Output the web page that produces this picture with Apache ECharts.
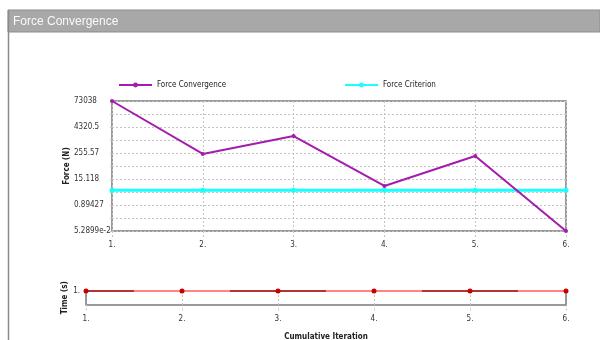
<!DOCTYPE html>
<html>
<head>
<meta charset="utf-8">
<title>Force Convergence</title>
<script src="https://cdn.jsdelivr.net/npm/echarts@6/dist/echarts.min.js"></script>
<style>
  html, body { margin: 0; padding: 0; background: #fff; }
  #chart { width: 600px; height: 340px; }
</style>
</head>
<body>
<div id="chart"></div>
<script>
const iterations = [1, 2, 3, 4, 5, 6];
const forceConvergence = [73038, 230, 1620, 7.1, 185, 0.052899];
const forceCriterion = [4.43, 4.43, 4.43, 4.43, 4.43, 4.43];
const timeValues = [1, 1, 1, 1, 1, 1];
const forceTicks = [0.052899, 0.89427, 15.118, 255.57, 4320.5, 73038];
const forceTickLabels = ['5.2899e-2', '0.89427', '15.118', '255.57', '4320.5', '73038'];
const timeStepSpans = [[1, 1.5], [2.5, 3.5], [4.5, 5.5]];

const FONT = "'Liberation Sans Narrow', 'DejaVu Sans Condensed', sans-serif";
const GRID_LINE = { color: '#c4c4c4', width: 1, type: [2, 2] };
const FRAME = '#7a7a7a';
const LABEL = { color: '#333', fontSize: 8, fontFamily: FONT };
const AXIS_NAME = { color: '#222', fontSize: 8, fontWeight: 'bold', fontFamily: FONT };

// dotted lines at every label and half way (geometric mean) between labels
const forceGridValues = [];
forceTicks.forEach((v, i) => {
  forceGridValues.push(v);
  if (i < forceTicks.length - 1) forceGridValues.push(Math.sqrt(v * forceTicks[i + 1]));
});

function forceLabel(v) {
  const i = forceTicks.findIndex(t => Math.abs(Math.log10(t) - Math.log10(v)) < 1e-4);
  return i < 0 ? '' : forceTickLabels[i];
}

const pairs = ys => iterations.map((x, i) => [x, ys[i]]);

// dark pieces on the time line, broken with nulls
const stepLine = [];
timeStepSpans.forEach(([a, b]) => { stepLine.push([a, timeValues[0]], [b, timeValues[0]], [b, null]); });

const chart = echarts.init(document.getElementById('chart'));
chart.setOption({
  animation: false,
  title: {
    text: 'Force Convergence', left: 10, top: 14, padding: [2, 3],
    textStyle: { color: '#fafafa', fontSize: 12, fontWeight: 'normal', fontFamily: "'Liberation Sans', sans-serif" }
  },
  graphic: [
    { type: 'rect', z: 0, shape: { x: 8, y: 10, width: 592, height: 22 }, style: { fill: '#a8a8a8', stroke: '#8c8c8c', lineWidth: 1 } },
    { type: 'line', z: 0, shape: { x1: 8.5, y1: 10, x2: 8.5, y2: 340 }, style: { stroke: '#8a8a8a', lineWidth: 1.5 } }
  ],
  legend: [
    { data: ['Force Convergence'], left: 113, top: 76, itemWidth: 33, itemHeight: 6, textStyle: { ...LABEL, color: '#222' } },
    { data: ['Force Criterion'], left: 339, top: 76, itemWidth: 33, itemHeight: 6, textStyle: { ...LABEL, color: '#222' } }
  ],
  grid: [
    { left: 112, right: 34, top: 101, height: 130, show: true, borderColor: FRAME, borderWidth: 1.5, outerBoundsMode: 'none' },
    { left: 86, right: 34, top: 291, height: 13.5, outerBoundsMode: 'none' }
  ],
  xAxis: [
    {
      gridIndex: 0, type: 'value', min: 1, max: 6, interval: 1,
      axisLine: { show: false },
      axisTick: { length: 6, lineStyle: GRID_LINE },
      splitLine: { lineStyle: GRID_LINE },
      axisLabel: { ...LABEL, margin: 10, formatter: v => v + '.' }
    },
    {
      gridIndex: 1, type: 'value', min: 1, max: 6, interval: 1,
      name: 'Cumulative Iteration', nameLocation: 'middle', nameGap: 28, nameMoveOverlap: false, nameTextStyle: AXIS_NAME,
      axisLine: { lineStyle: { color: FRAME, width: 1.5 } },
      axisTick: { length: 8, lineStyle: GRID_LINE },
      splitLine: { show: true, lineStyle: GRID_LINE },
      axisLabel: { ...LABEL, margin: 10, formatter: v => v + '.' }
    }
  ],
  yAxis: [
    {
      gridIndex: 0, type: 'log', logBase: 10, min: forceTicks[0], max: forceTicks[forceTicks.length - 1],
      name: 'Force (N)', nameLocation: 'middle', nameGap: 41, nameMoveOverlap: false, nameTextStyle: AXIS_NAME,
      axisLine: { show: false },
      axisTick: { customValues: forceGridValues, length: 4, lineStyle: GRID_LINE },
      splitLine: { show: true, lineStyle: GRID_LINE },
      axisLabel: { ...LABEL, customValues: forceTicks, formatter: forceLabel, align: 'left', margin: 38 }
    },
    {
      gridIndex: 1, type: 'value', min: 0, max: 1, interval: 1,
      name: 'Time (s)', nameLocation: 'middle', nameGap: 17, nameMoveOverlap: false, nameTextStyle: AXIS_NAME,
      axisLine: { lineStyle: { color: FRAME, width: 1.5 } },
      axisTick: { show: false },
      splitLine: { show: false },
      axisLabel: { ...LABEL, margin: 6, showMinLabel: false, formatter: v => v + '.' }
    },
    {
      gridIndex: 1, type: 'value', position: 'right', min: 0, max: 1,
      axisLine: { show: true, lineStyle: { color: FRAME, width: 1.5 } },
      axisTick: { show: false }, axisLabel: { show: false }, splitLine: { show: false }
    }
  ],
  series: [
    {
      name: 'Force Criterion', type: 'line', xAxisIndex: 0, yAxisIndex: 0,
      data: pairs(forceCriterion), color: '#19ffff',
      lineStyle: { width: 3 }, symbol: 'circle', symbolSize: 5, clip: false, z: 2
    },
    {
      name: 'Force Convergence', type: 'line', xAxisIndex: 0, yAxisIndex: 0,
      data: pairs(forceConvergence), color: '#a31cae',
      lineStyle: { width: 2 }, symbol: 'circle', symbolSize: 4, clip: false, z: 3
    },
    {
      name: 'Time steps', type: 'line', xAxisIndex: 1, yAxisIndex: 1,
      data: stepLine, symbol: 'none', connectNulls: false, clip: false,
      lineStyle: { color: '#3a3a3a', width: 2 }, z: 2
    },
    {
      name: 'Time', type: 'line', xAxisIndex: 1, yAxisIndex: 1,
      data: pairs(timeValues), clip: false,
      lineStyle: { color: 'rgba(255,50,50,0.6)', width: 2 },
      symbol: 'circle', symbolSize: 5, itemStyle: { color: '#c80000' }, z: 3
    }
  ]
});
</script>
</body>
</html>
